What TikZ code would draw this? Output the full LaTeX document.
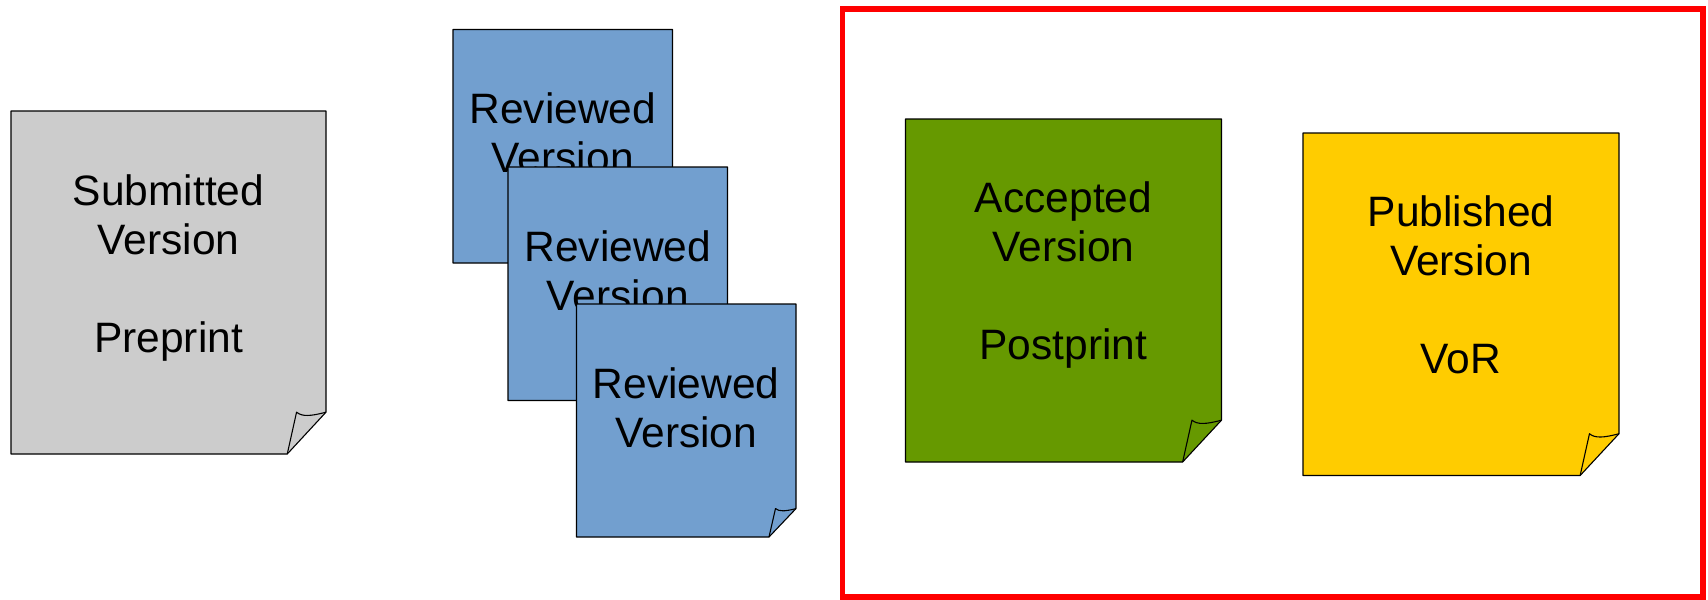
\documentclass[tikz,border=0pt]{standalone}
\usepackage{fontspec}
\setmainfont{Liberation Sans}
\usepackage{tikz}
\usetikzlibrary{calc}
\definecolor{clrone}{HTML}{CCCCCC}
\definecolor{clrtwo}{HTML}{729FCF}
\definecolor{clrthree}{HTML}{669900}
\definecolor{clrfour}{HTML}{FFCC00}
\tikzset{
    sheet/.style={draw=black, line width=.022cm, line join=round},
    sheetlabel/.style={align=center, inner sep=0pt, font=\fontsize{24.2}{27.9}\selectfont},
}
\newcommand{\drawsheet}[8]{
    \pgfmathsetmacro{\fx}{.123*#4}
    \pgfmathsetmacro{\fy}{.122*#5}
    \draw[sheet, fill=#6] (#2,#3) -- ++(#4,0) -- ++(0,#5-\fy) -- ++(-\fx,\fy) -- ++(-#4+\fx,0) -- cycle;
    \draw[sheet] (#2+#4-\fx,#3+#5) -- (#2+#4-.76*\fx,#3+#5-\fy)
        .. controls (#2+#4-.62*\fx,#3+#5-.89*\fy) and (#2+#4-.4*\fx,#3+#5-.9*\fy) .. (#2+#4,#3+#5-\fy);
    \node[sheetlabel] (#1) at (#2+.5*#4,#7) {#8};
}

\begin{document}
\begin{tikzpicture}[x=.02cm, y=-.02cm]
    \useasboundingbox (0,0) rectangle (1708,599);

    \drawsheet{submitted}{11}{111}{315}{343}{clrone}{268}{Submitted\\Version\\ \\Preprint}
    \drawsheet{reviewedA}{453}{29.5}{219.5}{233.5}{clrtwo}{133}{Reviewed\\Version}
    \drawsheet{reviewedB}{508}{167}{219.5}{233.5}{clrtwo}{270.5}{Reviewed\\Version}
    \drawsheet{reviewedC}{576.5}{304}{219.5}{233}{clrtwo}{407.8}{Reviewed\\Version}
    \drawsheet{accepted}{905.5}{119}{316}{343}{clrthree}{275}{Accepted\\Version\\ \\Postprint}
    \drawsheet{published}{1303}{133}{316}{342.5}{clrfour}{284.6}{Published\\Version\\ \\VoR}

    \node[draw=red, line width=.11cm, minimum width=17.22cm, minimum height=11.77cm, inner sep=0pt, anchor=north west] (frame) at (839.5,6) {};
\end{tikzpicture}
\end{document}
